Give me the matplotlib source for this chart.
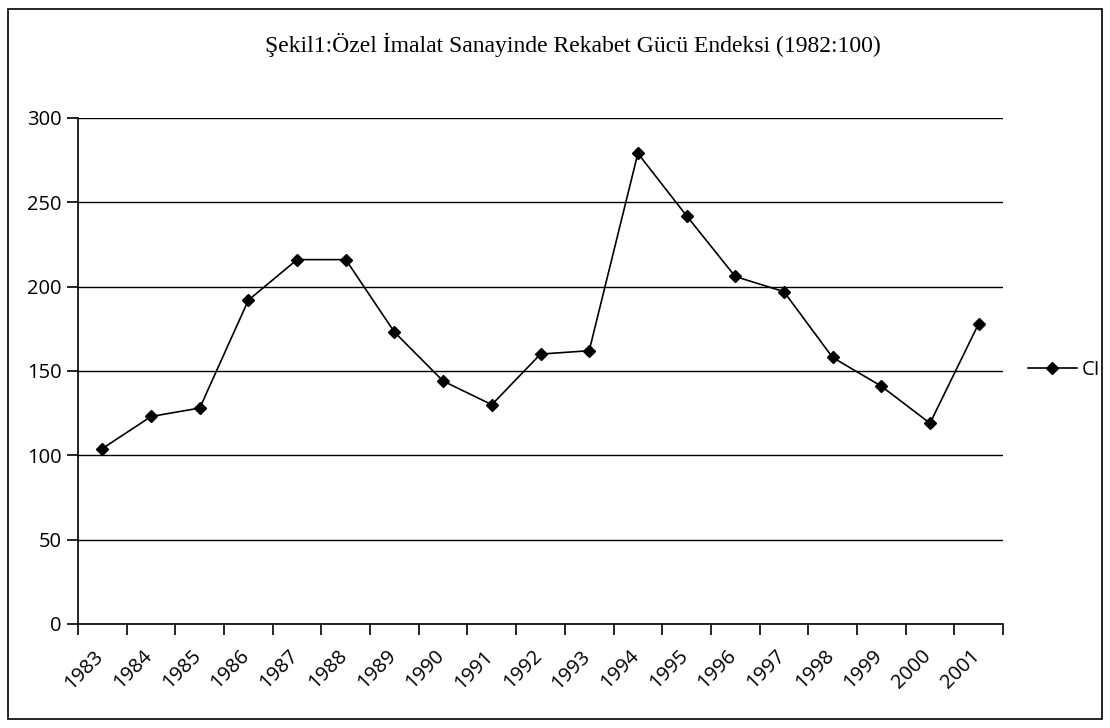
import matplotlib
matplotlib.use("Agg")
import matplotlib.pyplot as plt
from matplotlib.patches import Rectangle
import numpy as np

years = ["1983", "1984", "1985", "1986", "1987", "1988", "1989", "1990", "1991", "1992",
         "1993", "1994", "1995", "1996", "1997", "1998", "1999", "2000", "2001"]
ci = [104, 123, 128, 192, 216, 216, 173, 144, 130, 160,
      162, 279, 242, 206, 197, 158, 141, 119, 178]
yticks = [0, 50, 100, 150, 200, 250, 300]
title = "Şekil1:Özel İmalat Sanayinde Rekabet Gücü Endeksi (1982:100)"

fig = plt.figure(figsize=(11.1, 7.28), dpi=100)
ax = fig.add_axes([0.0703, 0.1429, 0.8333, 0.6951])

n = len(years)
x = np.arange(n) + 0.5
line, = ax.plot(x, ci, color="black", lw=1.2, marker="D", markersize=6.5,
                markerfacecolor="black", markeredgecolor="black", label="CI")

ax.set_xlim(0, n)
ax.set_ylim(0, 300)
ax.set_yticks(yticks)
ax.set_yticklabels([str(v) for v in yticks])
ax.yaxis.grid(True, color="black", lw=1)
ax.set_axisbelow(True)

ax.set_xticks(np.arange(n + 1))
ax.set_xticklabels([])
ax.set_xticks(np.arange(n) + 0.32, minor=True)
ax.set_xticklabels(years, minor=True, rotation=45, ha="right", va="top",
                   rotation_mode="anchor")
ax.tick_params(axis="x", which="minor", length=0, pad=16)
ax.tick_params(axis="x", which="major", length=8, width=1.2, direction="out")
ax.tick_params(axis="y", length=8, width=1.2, direction="out", pad=4)

for lab in ax.get_xticklabels(minor=True) + ax.get_yticklabels():
    lab.set_fontfamily("Open Sans")
    lab.set_fontsize(14.5)

for s in ["top", "right"]:
    ax.spines[s].set_visible(False)
for s in ["left", "bottom"]:
    ax.spines[s].set_linewidth(1.2)

fig.text(0.516, 0.938, title, ha="center", va="center", fontsize=17,
         fontfamily="Liberation Serif")

leg = fig.legend(handles=[line], loc="center left", bbox_to_anchor=(0.910, 0.492),
                 frameon=False, prop={"family": "Open Sans", "size": 14.5},
                 handlelength=2.4, handletextpad=0.25)

fig.patches.append(Rectangle((0.007, 0.012), 0.986, 0.976, transform=fig.transFigure,
                             fill=False, edgecolor="black", lw=1.2))

fig.savefig("out.png", dpi=100)
